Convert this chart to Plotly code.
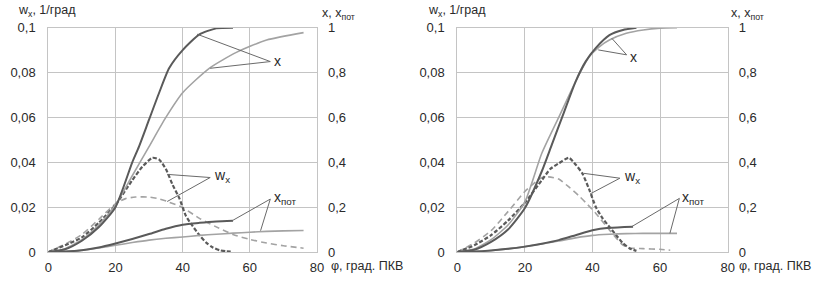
import plotly.graph_objects as go

# ---------------- data: left chart (A) ----------------
phi_xA_dark = [0, 5, 10, 15, 20, 25, 27, 30, 33, 36, 40, 45, 50, 55]
x_A_dark = [0, 0.012, 0.05, 0.11, 0.20, 0.40, 0.47, 0.59, 0.71, 0.82, 0.90, 0.97, 0.997, 1.0]
phi_xA_light = [0, 5, 10, 15, 20, 25, 30, 35, 40, 48, 56, 65, 76]
x_A_light = [0, 0.015, 0.055, 0.12, 0.21, 0.34, 0.47, 0.60, 0.71, 0.82, 0.89, 0.945, 0.978]
phi_wA_dark = [0, 5, 10, 15, 20, 25, 28, 31, 33, 35, 37, 39, 41, 43, 45, 47, 49, 51, 53, 55]
w_A_dark = [0, 0.003, 0.0065, 0.013, 0.021, 0.032, 0.038, 0.042, 0.0412, 0.037, 0.030, 0.024, 0.016,
            0.0115, 0.0075, 0.0042, 0.002, 0.0008, 0.0003, 0.0002]
phi_wA_light = [0, 5, 10, 15, 20, 23, 26, 30, 33, 36, 40, 45, 50, 55, 60, 65, 70, 76]
w_A_light = [0, 0.0035, 0.0078, 0.0145, 0.0215, 0.0238, 0.0245, 0.0245, 0.0237, 0.0222, 0.0198,
             0.0150, 0.0112, 0.0078, 0.0056, 0.0040, 0.0028, 0.0017]
phi_pA_dark = [0, 5, 10, 15, 20, 25, 30, 35, 40, 45, 50, 55]
xpot_A_dark = [0, 0.002, 0.008, 0.02, 0.038, 0.058, 0.08, 0.104, 0.122, 0.130, 0.136, 0.139]
phi_pA_light = [0, 5, 10, 15, 20, 25, 30, 35, 40, 45, 50, 55, 60, 65, 70, 76]
xpot_A_light = [0, 0.002, 0.008, 0.018, 0.030, 0.042, 0.053, 0.061, 0.067, 0.074, 0.079, 0.084,
                0.088, 0.092, 0.094, 0.096]

# ---------------- data: right chart (B) ----------------
phi_xB_dark = [0, 5, 10, 15, 20, 25, 28, 31, 35, 38, 41, 45, 49, 53]
x_B_dark = [0, 0.01, 0.045, 0.10, 0.196, 0.36, 0.48, 0.60, 0.76, 0.85, 0.91, 0.967, 0.99, 1.0]
phi_xB_light = [0, 5, 10, 15, 20, 25, 30, 35, 39, 42, 45, 50, 55, 60, 65]
x_B_light = [0, 0.013, 0.055, 0.12, 0.224, 0.44, 0.60, 0.76, 0.87, 0.915, 0.945, 0.975, 0.99, 0.998, 1.0]
phi_wB_dark = [0, 5, 10, 15, 20, 25, 27.5, 30, 33, 35, 37, 39, 41, 43, 45, 47, 49, 51, 53]
w_B_dark = [0, 0.003, 0.0075, 0.014, 0.022, 0.032, 0.037, 0.0395, 0.042, 0.039, 0.035, 0.028, 0.020,
            0.015, 0.0112, 0.0075, 0.0039, 0.0016, 0.0005]
phi_wB_light = [0, 5, 10, 15, 20, 23, 25, 27, 30, 33, 36, 38, 41, 45, 49, 51, 55, 60, 63]
w_B_light = [0, 0.004, 0.0095, 0.018, 0.027, 0.031, 0.0332, 0.0335, 0.0325, 0.029, 0.025, 0.022,
             0.0172, 0.0098, 0.0031, 0.0018, 0.0015, 0.0012, 0.0008]
phi_pB_dark = [0, 5, 10, 15, 20, 25, 30, 35, 40, 45, 52]
xpot_B_dark = [0, 0.002, 0.007, 0.014, 0.024, 0.037, 0.053, 0.075, 0.097, 0.108, 0.113]
phi_pB_light = [0, 5, 10, 15, 20, 25, 30, 35, 40, 45, 50, 55, 65]
xpot_B_light = [0, 0.002, 0.007, 0.014, 0.024, 0.036, 0.049, 0.063, 0.074, 0.079, 0.082, 0.083, 0.083]

# ---------------- ticks ----------------
x_ticks = [0, 20, 40, 60, 80]
x_ticktext = ["0", "20", "40", "60", "80"]
w_ticks = [0, 0.02, 0.04, 0.06, 0.08, 0.1]
w_ticktext = ["0", "0,02", "0,04", "0,06", "0,08", "0,1"]
r_ticks = [0, 0.2, 0.4, 0.6, 0.8, 1.0]
r_ticktext = ["0", "0,2", "0,4", "0,6", "0,8", "1"]

DARK = "#5a5a5a"
LIGHT = "#a3a3a3"
GRID = "#c4c4c4"
TXT = "#2a2a2a"
FONT = "Liberation Sans, Arial, sans-serif"

W, H = 815, 282


def fx(px):
    return px / W


def fy(py):
    return 1 - py / H


fig = go.Figure()


def add_panel(xa, ya_left, ya_right, sets):
    for phi, vals, axis, color, width, dash in sets:
        fig.add_trace(go.Scatter(
            x=phi, y=vals, mode="lines", xaxis=xa,
            yaxis=ya_left if axis == "L" else ya_right,
            line=dict(color=color, width=width, dash=dash, shape="spline", smoothing=0.6),
            showlegend=False, hoverinfo="skip"))


add_panel("x", "y", "y2", [
    (phi_pA_light, xpot_A_light, "R", LIGHT, 1.6, "solid"),
    (phi_pA_dark, xpot_A_dark, "R", DARK, 2.0, "solid"),
    (phi_xA_light, x_A_light, "R", LIGHT, 1.6, "solid"),
    (phi_xA_dark, x_A_dark, "R", DARK, 2.0, "solid"),
    (phi_wA_light, w_A_light, "L", LIGHT, 1.6, "6px,4px"),
    (phi_wA_dark, w_A_dark, "L", DARK, 2.2, "4px,2px"),
])
add_panel("x2", "y3", "y4", [
    (phi_pB_light, xpot_B_light, "R", LIGHT, 1.6, "solid"),
    (phi_pB_dark, xpot_B_dark, "R", DARK, 2.0, "solid"),
    (phi_xB_light, x_B_light, "R", LIGHT, 1.6, "solid"),
    (phi_xB_dark, x_B_dark, "R", DARK, 2.0, "solid"),
    (phi_wB_light, w_B_light, "L", LIGHT, 1.6, "6px,4px"),
    (phi_wB_dark, w_B_dark, "L", DARK, 2.2, "4px,2px"),
])

ydom = [fy(252), fy(27.7)]
xdomA = [fx(48.3), fx(317.0)]
xdomB = [fx(457.3), fx(727.7)]

tickfont = dict(family=FONT, size=13, color=TXT)
xcommon = dict(range=[0, 80], tickvals=x_ticks, ticktext=x_ticktext, showgrid=True,
               gridcolor=GRID, gridwidth=1, zeroline=False, showline=True, mirror=True,
               linecolor=GRID, linewidth=1, ticks="", tickfont=tickfont, ticklabelstandoff=3,
               automargin=False)
ycommonL = dict(range=[0, 0.1], tickvals=w_ticks, ticktext=w_ticktext, showgrid=True,
                gridcolor=GRID, gridwidth=1, zeroline=False, showline=True, mirror=True,
                linecolor=GRID, linewidth=1, ticks="", tickfont=tickfont, ticklabelstandoff=9,
                automargin=False)
ycommonR = dict(range=[0, 1], tickvals=r_ticks, ticktext=r_ticktext, showgrid=False,
                zeroline=False, showline=False, ticks="", tickfont=tickfont,
                side="right", ticklabelstandoff=10, automargin=False)

fig.update_layout(
    template="none",
    width=W, height=H, margin=dict(l=0, r=0, t=0, b=0, autoexpand=False),
    paper_bgcolor="white", plot_bgcolor="white",
    font=dict(family=FONT, size=13, color=TXT),
    xaxis=dict(domain=xdomA, anchor="y", **xcommon),
    yaxis=dict(domain=ydom, anchor="x", **ycommonL),
    yaxis2=dict(anchor="x", overlaying="y", **ycommonR),
    xaxis2=dict(domain=xdomB, anchor="y3", **xcommon),
    yaxis3=dict(domain=ydom, anchor="x2", **ycommonL),
    yaxis4=dict(anchor="x2", overlaying="y3", **ycommonR),
)

# pointer lines (in left-axis units of each panel)
pointers = [
    ("x", "y", [(66.1, 0.0849, 44.3, 0.0971), (66.1, 0.0849, 48.2, 0.0819)]),
    ("x", "y", [(48.2, 0.0332, 35.4, 0.0346), (48.2, 0.0332, 35.4, 0.0225)]),
    ("x", "y", [(66.1, 0.0236, 54.8, 0.0140), (66.1, 0.0236, 63.2, 0.0095)]),
    ("x2", "y3", [(50.1, 0.0879, 45.7, 0.0953), (50.1, 0.0879, 41.7, 0.0901)]),
    ("x2", "y3", [(48.1, 0.0329, 37.3, 0.0351), (48.1, 0.0329, 39.3, 0.0259)]),
    ("x2", "y3", [(65.7, 0.0239, 51.6, 0.0113), (65.7, 0.0239, 62.9, 0.0083)]),
]
for xr, yr, segs in pointers:
    for x0, y0, x1, y1 in segs:
        fig.add_shape(type="line", xref=xr, yref=yr, x0=x0, y0=y0, x1=x1, y1=y1,
                      line=dict(color="#6a6a6a", width=1))

labels = [
    ("x", "y", 66.6, 0.0850, "x"),
    ("x", "y", 48.8, 0.0338, "w<sub>x</sub>"),
    ("x", "y", 66.6, 0.0239, "x<sub>пот</sub>"),
    ("x2", "y3", 50.5, 0.0868, "x"),
    ("x2", "y3", 48.6, 0.0336, "w<sub>x</sub>"),
    ("x2", "y3", 66.0, 0.0239, "x<sub>пот</sub>"),
]
for xr, yr, x, y, t in labels:
    fig.add_annotation(xref=xr, yref=yr, x=x, y=y, text=t, showarrow=False,
                       xanchor="left", yanchor="middle", font=dict(size=14, color=TXT))

# axis titles (window pixels)
titles = [
    (16, 11, "w<sub>x</sub>, 1/град"),
    (320, 14, "x, x<sub>пот</sub>"),
    (329, 266, "φ, град. ПКВ"),
    (426, 11, "w<sub>x</sub>, 1/град"),
    (729, 14, "x, x<sub>пот</sub>"),
    (737, 266, "φ, град. ПКВ"),
]
for px, py, t in titles:
    fig.add_annotation(xref="paper", yref="paper", x=fx(px), y=fy(py), text=t,
                       showarrow=False, xanchor="left", yanchor="middle",
                       font=dict(size=12.5, color=TXT))

fig.write_html("out.html", config={"displayModeBar": False, "staticPlot": True},
               post_script="document.body.style.margin='0';")
